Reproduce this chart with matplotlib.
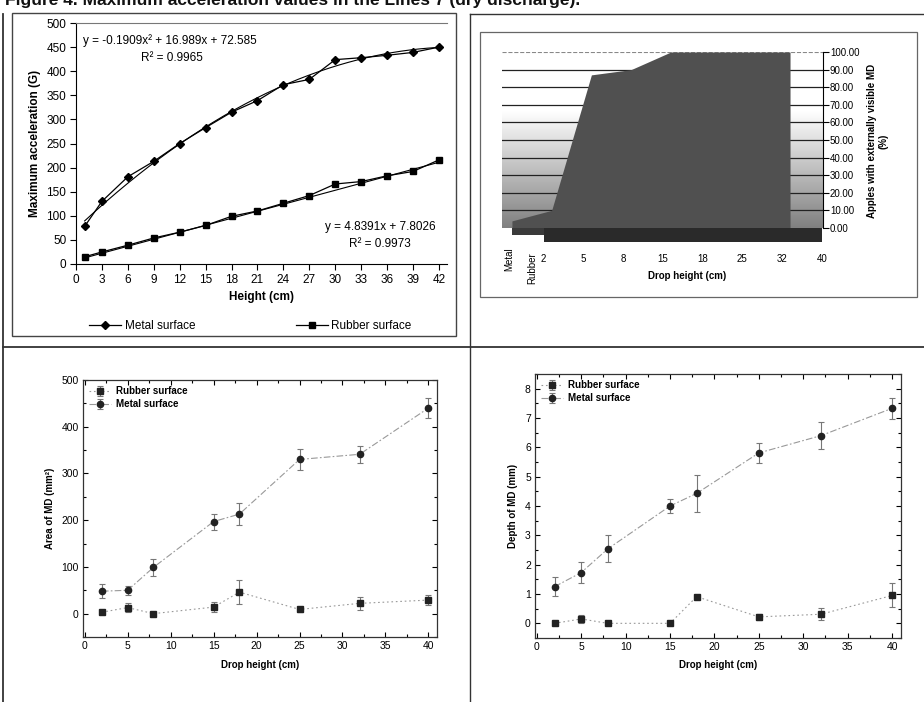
import numpy as np
import matplotlib
matplotlib.use("Agg")
import matplotlib.pyplot as plt
from matplotlib.lines import Line2D
from matplotlib.patches import Rectangle

plt.rcParams['font.family'] = ['Liberation Sans', 'DejaVu Sans']

# ---------------- data ----------------
# Panel A: maximum acceleration
acc_height = [1, 3, 6, 9, 12, 15, 18, 21, 24, 27, 30, 33, 36, 39, 42]
acc_metal = [78, 130, 181, 213, 250, 283, 315, 339, 372, 383, 424, 428, 433, 439, 450]
acc_rubber = [15, 25, 39, 54, 66, 80, 99, 110, 126, 142, 166, 171, 183, 192, 216]
acc_xticks = [0, 3, 6, 9, 12, 15, 18, 21, 24, 27, 30, 33, 36, 39, 42]
poly_metal = [-0.1909, 16.989, 72.585]
lin_rubber = [4.8391, 7.8026]
eq_metal = "y = -0.1909x² + 16.989x + 72.585"
r2_metal = "R² = 0.9965"
eq_rubber = "y = 4.8391x + 7.8026"
r2_rubber = "R² = 0.9973"

# Panel B: % apples with externally visible MD (3D area)
vis_cats = ["2", "5", "8", "15", "18", "25", "32", "40"]
vis_metal = [4, 10, 87, 90, 100, 100, 100, 100]
vis_rubber = [0, 0, 0, 0, 0, 0, 0, 0]

# Panels C & D: area and depth of MD
drop = [2, 5, 8, 15, 18, 25, 32, 40]
area_metal = [48, 50, 99, 197, 213, 330, 341, 440]
area_metal_err = [15, 10, 18, 17, 23, 22, 18, 22]
area_rubber = [3, 13, 0, 14, 46, 9, 22, 29]
area_rubber_err = [3, 10, 2, 10, 25, 6, 14, 10]
depth_metal = [1.25, 1.73, 2.54, 4.0, 4.43, 5.81, 6.40, 7.33]
depth_metal_err = [0.32, 0.36, 0.46, 0.23, 0.62, 0.34, 0.46, 0.35]
depth_rubber = [0.0, 0.15, 0.0, 0.0, 0.91, 0.22, 0.31, 0.95]
depth_rubber_err = [0.02, 0.15, 0.02, 0.02, 0.05, 0.1, 0.21, 0.41]

W, H = 924, 702
fig = plt.figure(figsize=(W / 100, H / 100), dpi=100)


def ax_px(l, t, r, b):
    return fig.add_axes([l / W, 1 - b / H, (r - l) / W, (b - t) / H])


def fline(x0, y0, x1, y1, lw=1.0, color='#333333'):
    fig.add_artist(Line2D([x0 / W, x1 / W], [1 - y0 / H, 1 - y1 / H],
                          transform=fig.transFigure, lw=lw, color=color))


def fbox(l, t, r, b, lw=1.0, color='#444444'):
    fig.add_artist(Rectangle((l / W, 1 - b / H), (r - l) / W, (b - t) / H,
                             transform=fig.transFigure, fill=False, lw=lw,
                             edgecolor=color))


# title (cut at top edge, as in the reference)
fig.text(5 / W, 1 - 5 / H,
         "Figure 4. Maximum acceleration values in the Lines 7 (dry discharge).",
         fontsize=12.5, fontweight='bold', va='baseline', ha='left', color='#111111')

# table lines
fline(3, 14, 3, 702, lw=1.3)
fline(470, 14, 470, 702, lw=1.0)
fline(470, 14, 924, 14, lw=1.0)
fline(3, 347, 924, 347, lw=1.3)
fbox(12, 13, 456, 336, lw=1.0)
fbox(480, 32, 917, 297, lw=0.9, color='#666666')

# ---------------- Panel A ----------------
ax1 = ax_px(76, 23, 447, 264)
ax1.plot(acc_height, acc_metal, color='black', lw=0.9, marker='D', ms=4, label='Metal surface')
ax1.plot(acc_height, acc_rubber, color='black', lw=0.9, marker='s', ms=4.5, label='Rubber surface')
xs = np.linspace(acc_height[0], acc_height[-1], 200)
ax1.plot(xs, np.polyval(poly_metal, xs), color='black', lw=0.8)
ax1.plot(xs, np.polyval(lin_rubber, xs), color='black', lw=0.8)
ax1.set_xlim(0, 42.93)
ax1.set_ylim(0, 500)
ax1.set_xticks(acc_xticks)
ax1.set_yticks(range(0, 501, 50))
ax1.tick_params(direction='out', length=4, width=0.8, labelsize=8.5, pad=3)
ax1.spines['right'].set_visible(False)
ax1.spines['top'].set_color('#777777')
ax1.set_xlabel("Height (cm)", fontsize=8.5, fontweight='bold', labelpad=4)
ax1.set_ylabel("Maximum acceleration (G)", fontsize=8.5, fontweight='bold', labelpad=4)
ax1.text(7 / 371, 1 - 18 / 241, eq_metal, transform=ax1.transAxes, fontsize=8.5, va='center')
ax1.text(96 / 371, 1 - 35 / 241, r2_metal, transform=ax1.transAxes, fontsize=8.5, va='center', ha='center')
ax1.text(304 / 371, 1 - 204 / 241, eq_rubber, transform=ax1.transAxes, fontsize=8.5, va='center', ha='center')
ax1.text(304 / 371, 1 - 221 / 241, r2_rubber, transform=ax1.transAxes, fontsize=8.5, va='center', ha='center')
ax1.legend(loc='upper center', bbox_to_anchor=(0.47, -0.19), ncol=2, frameon=False,
           fontsize=8.5, handlelength=2.7, columnspacing=8.5, handletextpad=0.3)

# ---------------- Panel B (pseudo-3D area) ----------------
ax2 = ax_px(502, 52, 823, 242)
idx = np.arange(len(vis_cats))
depth_shift = -0.8
ax2.set_xlim(-1.05, 7.03)
ax2.set_ylim(-8, 100)
grad = np.clip(np.linspace(0.5, 1.25, 256), 0, 1)[:, None]
ax2.imshow(grad, extent=(-1.05, 7.03, 0, 100), origin='lower', cmap='gray',
           vmin=0, vmax=1, aspect='auto', zorder=0)
for g in range(10, 100, 10):
    ax2.axhline(g, color='#222222', lw=0.9, zorder=1)
ax2.axhline(100, color='#888888', lw=0.8, ls='--', zorder=1)
ax2.fill_between(idx + depth_shift, 0, vis_metal, color='#505050', lw=0, zorder=2)
ax2.fill_between(idx + depth_shift, -4, vis_rubber, color='#3a3a3a', lw=0, zorder=3)
ax2.fill_between(idx, -8, vis_rubber, color='#2a2a2a', lw=0, zorder=3)
ax2.yaxis.tick_right()
ax2.set_yticks(range(0, 101, 10))
ax2.set_yticklabels([f"{v:.2f}" for v in range(0, 101, 10)])
ax2.set_xticks(idx)
ax2.set_xticklabels(vis_cats)
ax2.tick_params(axis='x', length=0, labelsize=7, pad=9)
ax2.tick_params(axis='y', direction='out', length=4, width=0.8, labelsize=7, pad=1)
for s in ['left', 'top', 'bottom']:
    ax2.spines[s].set_visible(False)
ax2.spines['right'].set_bounds(0, 100)
ax2.text(-0.86, -18, "Metal", rotation=90, fontsize=7, ha='center', va='center', clip_on=False)
ax2.text(-0.3, -23, "Rubber", rotation=90, fontsize=7, ha='center', va='center', clip_on=False)
fig.text(687 / W, 1 - 276 / H, "Drop height (cm)", fontsize=7, fontweight='bold', ha='center', va='center')
fig.text(878 / W, 1 - 141 / H, "Apples with externally visible MD\n(%)", fontsize=7,
         fontweight='bold', rotation=90, ha='center', va='center', multialignment='center')

# ---------------- Panels C & D ----------------
def md_panel(ax, ym, yme, yr, yre, ylim, yticks, ylabel, minor_y):
    ax.errorbar(drop, yr, yerr=yre, color='#999999', lw=0.8, ls=(0, (1.5, 2.5)),
                marker='s', ms=4, mfc='#222222', mec='#222222', ecolor='#777777',
                elinewidth=0.8, capsize=2.5, capthick=0.8, label='Rubber surface')
    ax.errorbar(drop, ym, yerr=yme, color='#999999', lw=0.8, ls=(0, (6, 2, 1.5, 2)),
                marker='o', ms=4.5, mfc='#222222', mec='#222222', ecolor='#777777',
                elinewidth=0.8, capsize=2.5, capthick=0.8, label='Metal surface')
    ax.set_xlim(-0.2, 41)
    ax.set_ylim(*ylim)
    ax.set_xticks(range(0, 41, 5))
    ax.set_xticks(np.arange(2.5, 41, 5), minor=True)
    ax.set_yticks(yticks)
    ax.set_yticks(minor_y, minor=True)
    ax.tick_params(which='both', direction='in', top=True, right=True, width=0.8)
    ax.tick_params(which='major', length=3.5, labelsize=7.5, pad=3)
    ax.tick_params(which='minor', length=2)
    for s in ax.spines.values():
        s.set_linewidth(0.9)
        s.set_color('#333333')
    ax.set_xlabel("Drop height (cm)", fontsize=7, fontweight='bold', labelpad=6)
    ax.set_ylabel(ylabel, fontsize=7, fontweight='bold', labelpad=5)
    leg = ax.legend(loc='upper left', frameon=False, fontsize=7, handlelength=2.2,
                    handletextpad=0.5, borderaxespad=0.25, labelspacing=0.3)
    for t in leg.get_texts():
        t.set_fontweight('bold')


ax3 = ax_px(83, 380, 437, 637)
md_panel(ax3, area_metal, area_metal_err, area_rubber, area_rubber_err,
         (-50, 500), range(0, 501, 100), "Area of MD (mm²)", np.arange(-50, 501, 50))

ax4 = ax_px(535, 374, 901, 638)
md_panel(ax4, depth_metal, depth_metal_err, depth_rubber, depth_rubber_err,
         (-0.5, 8.5), range(0, 9), "Depth of MD (mm)", np.arange(-0.5, 8.6, 0.5))

fig.savefig("out.png", dpi=100)
